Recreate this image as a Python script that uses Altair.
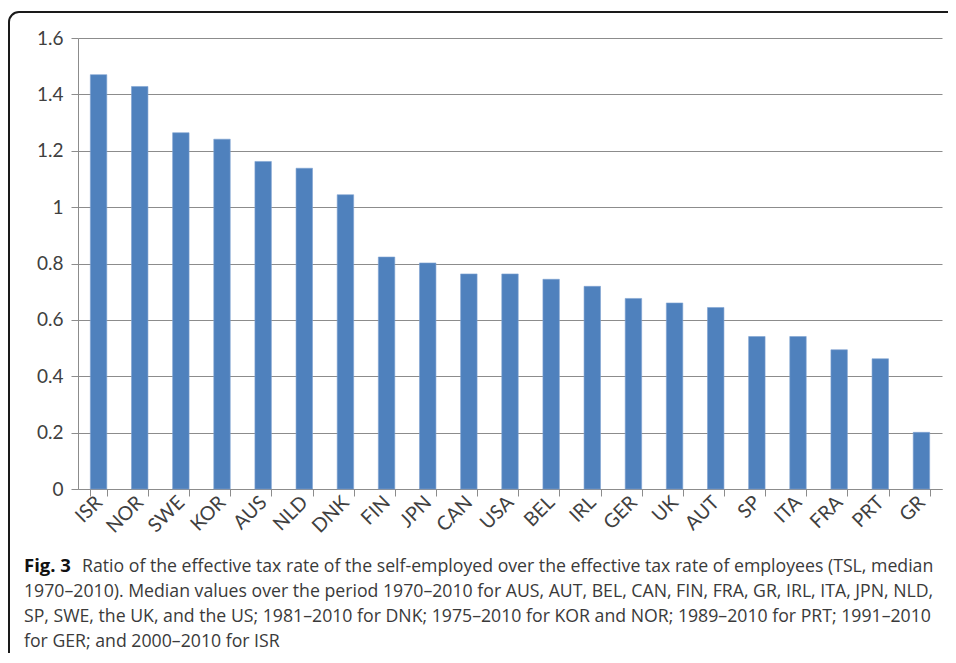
import altair as alt
import pandas as pd

countries = ["ISR", "NOR", "SWE", "KOR", "AUS", "NLD", "DNK", "FIN", "JPN", "CAN", "USA",
             "BEL", "IRL", "GER", "UK", "AUT", "SP", "ITA", "FRA", "PRT", "GR"]
ratios = [1.470, 1.428, 1.264, 1.241, 1.162, 1.138, 1.044, 0.823, 0.802, 0.763, 0.763,
          0.744, 0.719, 0.676, 0.660, 0.644, 0.541, 0.541, 0.494, 0.462, 0.201]
y_ticks = [0, 0.2, 0.4, 0.6, 0.8, 1, 1.2, 1.4, 1.6]

caption_bold = "Fig. 3"
caption_lines = [
    "Ratio of the effective tax rate of the self-employed over the effective tax rate of employees (TSL, median",
    "1970\u20132010). Median values over the period 1970\u20132010 for AUS, AUT, BEL, CAN, FIN, FRA, GR, IRL, ITA, JPN, NLD,",
    "SP, SWE, the UK, and the US; 1981\u20132010 for DNK; 1975\u20132010 for KOR and NOR; 1989\u20132010 for PRT; 1991\u20132010",
    "for GER; and 2000\u20132010 for ISR",
]

df = pd.DataFrame({"country": countries, "ratio": ratios})

W, H = 864, 451
AXIS_FONT = "Lato"
CAP_FONT = "Open Sans"
GRAY = "#8c8c8c"

bars = alt.Chart(df).mark_bar(color="#4f81bd", stroke="#7fa3d1", strokeWidth=0.6).encode(
    x=alt.X(
        "country:N", sort=countries,
        scale=alt.Scale(paddingInner=0.6, paddingOuter=0.3),
        axis=alt.Axis(title=None, labelAngle=-45, labelAlign="right", labelBaseline="middle",
                      labelFont=AXIS_FONT, labelFontSize=19.5, labelColor="#404040",
                      tickBand="extent", tickSize=7, tickColor=GRAY, domainColor=GRAY,
                      labelPadding=3, grid=False),
    ),
    y=alt.Y(
        "ratio:Q",
        scale=alt.Scale(domain=[0, 1.6], nice=False),
        axis=alt.Axis(title=None, values=y_ticks, format="~g", labelFont=AXIS_FONT,
                      labelFontSize=19, labelColor="#404040", tickSize=7, tickColor=GRAY,
                      domainColor=GRAY, gridColor=GRAY, gridWidth=1, labelPadding=8),
    ),
)

one = pd.DataFrame({"k": [0]})

border = alt.Chart(one).mark_rect(filled=False, stroke="#1a1a1a", strokeWidth=2,
                                  cornerRadius=10).encode(
    x=alt.value(-69), x2=alt.value(960), y=alt.value(-26), y2=alt.value(700)
)

layers = [border, bars]

bold_txt = alt.Chart(pd.DataFrame({"t": [caption_bold]})).mark_text(
    align="left", baseline="alphabetic", font=CAP_FONT, fontSize=18.5, fontWeight="bold",
    color="#111111"
).encode(text="t:N", x=alt.value(-54), y=alt.value(534))
layers.append(bold_txt)

line_x = [4, -54, -54, -54]
line_y = [534, 559, 584, 609]
for i, line in enumerate(caption_lines):
    layers.append(
        alt.Chart(pd.DataFrame({"t": [line]})).mark_text(
            align="left", baseline="alphabetic", font=CAP_FONT, fontSize=17.7, color="#3a3a3a"
        ).encode(text="t:N", x=alt.value(line_x[i]), y=alt.value(line_y[i]))
    )

chart = alt.layer(*layers).properties(
    width=W, height=H,
    autosize=alt.AutoSizeParams(type="none"),
    padding={"left": 70, "top": 30, "right": 6, "bottom": 164},
    background="white",
).configure_view(stroke=None)

chart.save("out.html", embed_options={"renderer": "svg", "actions": False})
